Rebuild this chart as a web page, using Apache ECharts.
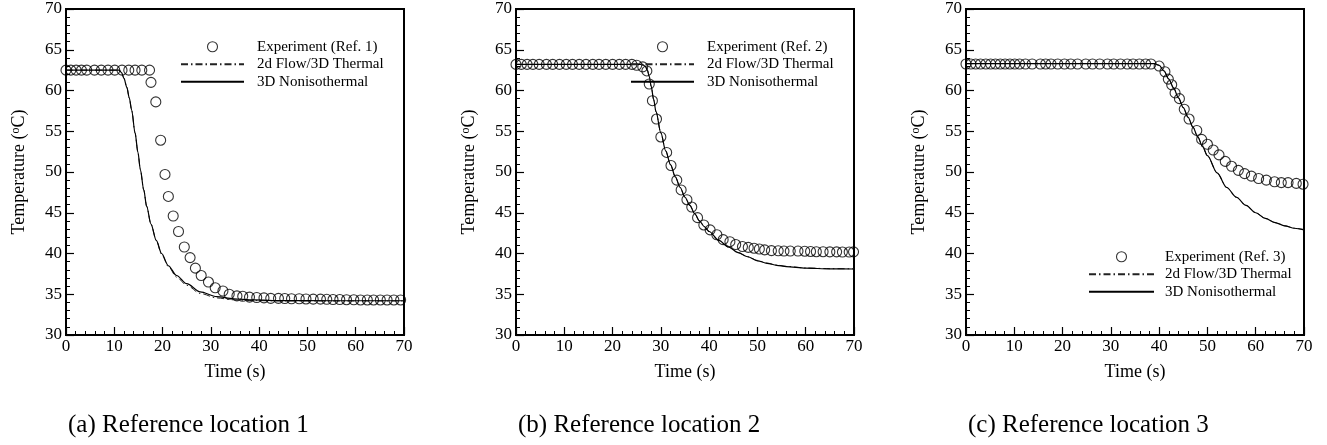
<!DOCTYPE html>
<html>
<head>
<meta charset="utf-8">
<script src="https://cdn.jsdelivr.net/npm/echarts@6/dist/echarts.min.js"></script>
<style>
html,body{margin:0;padding:0;background:#fff;}
#chart{width:1327px;height:445px;}
</style>
</head>
<body>
<div id="chart"></div>
<script>
// ---------- data ----------
var xTicks = [0, 10, 20, 30, 40, 50, 60, 70];
var yTicks = [30, 35, 40, 45, 50, 55, 60, 65, 70];
var captions = ['(a) Reference location 1', '(b) Reference location 2', '(c) Reference location 3'];
var expNames = ['Experiment (Ref. 1)', 'Experiment (Ref. 2)', 'Experiment (Ref. 3)'];
var flowName = '2d Flow/3D Thermal';
var nonisoName = '3D Nonisothermal';

// Panel (a)
var exp1T = [0, 1.0, 2.1, 3.2, 4.3, 5.9, 7.3, 8.7, 10.1, 11.6, 13.0, 14.3, 15.7, 17.3,
  17.6, 18.6, 19.6, 20.5, 21.2, 22.2, 23.3, 24.5, 25.7, 26.8, 28.0, 29.5, 30.9, 32.5, 33.8, 35.4, 36.6, 38.0, 39.5, 41.0,
  42.4, 44.0, 45.3, 46.7, 48.3, 49.7, 51.2, 52.7, 54.0, 55.3, 56.7, 58.1, 59.6, 61.0, 62.4, 63.7, 65.1, 66.5, 67.9, 69.3];
var exp1V = [62.5, 62.5, 62.5, 62.5, 62.5, 62.5, 62.5, 62.5, 62.5, 62.5, 62.5, 62.5, 62.5, 62.5,
  61.0, 58.6, 53.9, 49.7, 47.0, 44.6, 42.7, 40.8, 39.5, 38.2, 37.3, 36.5, 35.8, 35.4, 35.0, 34.8, 34.75, 34.65, 34.6, 34.55,
  34.5, 34.5, 34.48, 34.45, 34.45, 34.42, 34.4, 34.4, 34.38, 34.35, 34.35, 34.33, 34.32, 34.3, 34.3, 34.3, 34.3, 34.3, 34.3, 34.3];
var sim1T = [0, 11.0, 11.5, 12.0, 12.6, 13.1, 13.6, 14.3, 14.9, 15.4, 16.1, 16.7, 17.6, 18.7, 19.8, 21.2, 22.9, 25.0, 27.8, 31.2, 34.7, 38.8, 45, 55, 70];
var noniso1V = [62.5, 62.5, 62.2, 61.5, 60.4, 59.1, 57.6, 54.8, 52.4, 50.3, 47.8, 45.8, 43.6, 41.6, 40.0, 38.5, 37.3, 36.3, 35.3, 34.7, 34.45, 34.3, 34.22, 34.2, 34.2];
var flow1V = [62.5, 62.5, 62.2, 61.5, 60.4, 59.1, 57.6, 54.8, 52.4, 50.3, 47.8, 45.8, 43.6, 41.6, 39.9, 38.4, 37.1, 36.1, 35.1, 34.55, 34.32, 34.22, 34.18, 34.18, 34.18];

// Panel (b)
var exp2T = [0, 1.1, 2.3, 3.5, 4.8, 6.3, 7.6, 9.0, 10.4, 11.7, 13.1, 14.5, 15.9, 17.2, 18.6, 20.0, 21.4, 22.7, 24.0, 25.0,
  26.25, 27.1, 27.6, 28.25, 29.1, 30.0, 31.2, 32.1, 33.3, 34.2, 35.4, 36.4, 37.6, 38.9, 40.2, 41.6, 42.9, 44.3, 45.5, 46.9,
  48.1, 49.3, 50.4, 51.5, 52.9, 54.3, 55.5, 56.8, 58.4, 59.8, 61.0, 62.2, 63.6, 65.0, 66.4, 67.6, 69.0, 69.9];
var exp2V = [63.2, 63.2, 63.2, 63.2, 63.2, 63.2, 63.2, 63.2, 63.2, 63.2, 63.2, 63.2, 63.2, 63.2, 63.2, 63.2, 63.2, 63.2, 63.2, 63.1,
  62.9, 62.4, 60.8, 58.75, 56.5, 54.3, 52.4, 50.8, 49.0, 47.8, 46.6, 45.7, 44.4, 43.5, 42.9, 42.3, 41.7, 41.45, 41.1, 40.85,
  40.75, 40.65, 40.55, 40.45, 40.35, 40.33, 40.3, 40.3, 40.3, 40.28, 40.25, 40.22, 40.22, 40.2, 40.2, 40.18, 40.18, 40.2];
var sim2T = [0, 25.8, 26.3, 26.8, 27.2, 27.6, 28.0, 28.5, 29.0, 30.0, 31.0, 32.0, 33.0, 34.0, 35.0, 36.0, 37.0, 38.0, 39.0, 40.0, 42.0, 44.0, 46.0, 48.0, 50.0, 52.0, 54.0, 56.0, 60.0, 65.0, 70.0];
var noniso2V = [63.2, 63.2, 63.15, 62.95, 62.5, 61.7, 60.5, 58.9, 57.4, 54.8, 52.6, 50.9, 49.4, 48.1, 46.9, 45.9, 44.9, 44.0, 43.3, 42.7, 41.6, 40.8, 40.1, 39.6, 39.1, 38.8, 38.55, 38.4, 38.2, 38.12, 38.1];
var flow2V = [63.2, 63.2, 63.15, 62.95, 62.5, 61.7, 60.5, 58.9, 57.4, 54.8, 52.6, 50.9, 49.4, 48.1, 46.9, 45.9, 44.9, 44.0, 43.3, 42.7, 41.6, 40.8, 40.1, 39.6, 39.15, 38.82, 38.58, 38.42, 38.22, 38.14, 38.12];

// Panel (c)
var exp3T = [0, 1.0, 2.0, 3.0, 4.1, 5.1, 6.1, 7.1, 8.1, 9.1, 10.1, 11.1, 12.3, 13.7, 15.4, 16.5, 17.6, 19.0, 20.4, 21.7, 23.1, 24.8, 26.2, 27.7, 29.3, 30.6, 32.0, 33.4, 34.6, 35.9, 37.2, 38.3,
  40.0, 41.2, 41.9, 42.6, 43.3, 44.2, 45.2, 46.2, 47.8, 48.8, 50.0, 51.2, 52.4, 53.7, 55.0, 56.4, 57.7, 59.1, 60.6, 62.2, 63.9, 65.3, 66.7, 68.4, 69.8];
var exp3V = [63.25, 63.25, 63.25, 63.25, 63.25, 63.25, 63.25, 63.25, 63.25, 63.25, 63.25, 63.25, 63.25, 63.25, 63.25, 63.25, 63.25, 63.25, 63.25, 63.25, 63.25, 63.25, 63.25, 63.25, 63.25, 63.25, 63.25, 63.25, 63.25, 63.25, 63.25, 63.25,
  63.0, 62.3, 61.4, 60.7, 59.7, 59.0, 57.7, 56.5, 55.1, 54.0, 53.4, 52.7, 52.1, 51.3, 50.7, 50.2, 49.8, 49.5, 49.2, 49.0, 48.8, 48.7, 48.7, 48.6, 48.5];
var sim3T = [0, 39.0, 40, 41, 42, 43, 44, 45, 46, 47, 48, 49, 50, 52, 54, 56, 58, 60, 62, 64, 66, 68, 70];
var noniso3V = [63.3, 63.3, 63.1, 62.4, 61.4, 60.3, 59.1, 57.9, 56.7, 55.5, 54.3, 53.1, 52.0, 49.9, 48.1, 46.9, 45.9, 45.0, 44.3, 43.8, 43.4, 43.1, 42.9];
var flow3V = [63.3, 63.3, 63.1, 62.4, 61.4, 60.3, 59.1, 57.9, 56.7, 55.5, 54.3, 53.1, 52.0, 49.9, 48.1, 46.9, 45.9, 45.0, 44.3, 43.8, 43.4, 43.1, 42.95];

// ---------- chart ----------
function pairs(t, v) { return t.map(function (x, i) { return [x, v[i]]; }); }
var FONT = 'Liberation Serif, Times New Roman, serif';
var NOFILL = 'rgba(255,255,255,0)';
var panels = [
  {exp: pairs(exp1T, exp1V), flow: pairs(sim1T, flow1V), noniso: pairs(sim1T, noniso1V)},
  {exp: pairs(exp2T, exp2V), flow: pairs(sim2T, flow2V), noniso: pairs(sim2T, noniso2V)},
  {exp: pairs(exp3T, exp3V), flow: pairs(sim3T, flow3V), noniso: pairs(sim3T, noniso3V)}
];
var gridLefts = [66, 516, 966];
var legendPos = [
  {left: 180, top: 38, w: 63, pad: 8},
  {left: 630, top: 38, w: 63, pad: 8},
  {left: 1088, top: 248, w: 65, pad: 6}
];

var grids = [], xAxes = [], yAxes = [], series = [], legends = [], titles = [];
panels.forEach(function (p, i) {
  grids.push({left: gridLefts[i], top: 9, width: 338, height: 326, show: true, borderColor: '#000', borderWidth: 2, backgroundColor: 'transparent'});
  xAxes.push({
    type: 'value', gridIndex: i, min: xTicks[0], max: xTicks[xTicks.length - 1], interval: xTicks[1] - xTicks[0],
    name: 'Time (s)', nameLocation: 'middle', nameGap: 28,
    nameTextStyle: {fontFamily: FONT, fontSize: 18, color: '#000'},
    axisLine: {onZero: false, lineStyle: {color: '#000', width: 2}},
    axisTick: {inside: true, length: 8, lineStyle: {color: '#000', width: 1.2}},
    minorTick: {show: true, splitNumber: 5, length: 4, lineStyle: {color: '#000', width: 1}},
    axisLabel: {fontFamily: FONT, fontSize: 17, color: '#000', margin: 3},
    splitLine: {show: false}
  });
  yAxes.push({
    type: 'value', gridIndex: i, min: yTicks[0], max: yTicks[yTicks.length - 1], interval: yTicks[1] - yTicks[0],
    name: 'Temperature ({sup|o}C)', nameLocation: 'middle', nameGap: 38,
    nameTextStyle: {fontFamily: FONT, fontSize: 18, color: '#000',
      rich: {sup: {fontFamily: FONT, fontSize: 12, color: '#000', verticalAlign: 'top', lineHeight: 12, padding: [0, 0, 6, 0]}}},
    axisLine: {onZero: false, lineStyle: {color: '#000', width: 2}},
    axisTick: {inside: true, length: 8, lineStyle: {color: '#000', width: 1.2}},
    minorTick: {show: true, splitNumber: 5, length: 4, lineStyle: {color: '#000', width: 1}},
    axisLabel: {fontFamily: FONT, fontSize: 17, color: '#000', margin: 4},
    splitLine: {show: false}
  });
  series.push({
    name: expNames[i], type: 'scatter', xAxisIndex: i, yAxisIndex: i, data: p.exp,
    symbol: 'circle', symbolSize: 10, z: 3,
    itemStyle: {color: NOFILL, borderColor: '#000', borderWidth: 1.1}
  });
  series.push({
    name: flowName, type: 'line', xAxisIndex: i, yAxisIndex: i, data: p.flow,
    symbol: 'none', smooth: 0.3, smoothMonotone: 'x', z: 2,
    itemStyle: {color: NOFILL, borderWidth: 0},
    lineStyle: {color: '#222', width: 1, type: [7, 3, 1.5, 3]}
  });
  series.push({
    name: nonisoName, type: 'line', xAxisIndex: i, yAxisIndex: i, data: p.noniso,
    symbol: 'none', smooth: 0.3, smoothMonotone: 'x', z: 2,
    itemStyle: {color: NOFILL, borderWidth: 0},
    lineStyle: {color: '#000', width: 1.2}
  });
  var lp = legendPos[i];
  legends.push({
    orient: 'vertical', left: lp.left, top: lp.top, padding: 0, itemGap: 0,
    itemWidth: lp.w, itemHeight: 10, selectedMode: false,
    textStyle: {fontFamily: FONT, fontSize: 15, color: '#000', lineHeight: 17.5, padding: [0, 0, 0, lp.pad]},
    data: [
      {name: expNames[i], icon: 'circle', itemStyle: {color: NOFILL, borderColor: '#000', borderWidth: 1.1}},
      {name: flowName, itemStyle: {color: NOFILL, borderColor: NOFILL, borderWidth: 0}},
      {name: nonisoName, itemStyle: {color: NOFILL, borderColor: NOFILL, borderWidth: 0}}
    ]
  });
  titles.push({
    text: captions[i], left: gridLefts[i] + 2, top: 413, padding: 0,
    textStyle: {fontFamily: FONT, fontSize: 25, fontWeight: 'normal', color: '#000'}
  });
});

var chart = echarts.init(document.getElementById('chart'), null, {renderer: 'canvas'});
chart.setOption({
  animation: false,
  backgroundColor: '#fff',
  title: titles,
  grid: grids,
  xAxis: xAxes,
  yAxis: yAxes,
  legend: legends,
  series: series
});
</script>
</body>
</html>
